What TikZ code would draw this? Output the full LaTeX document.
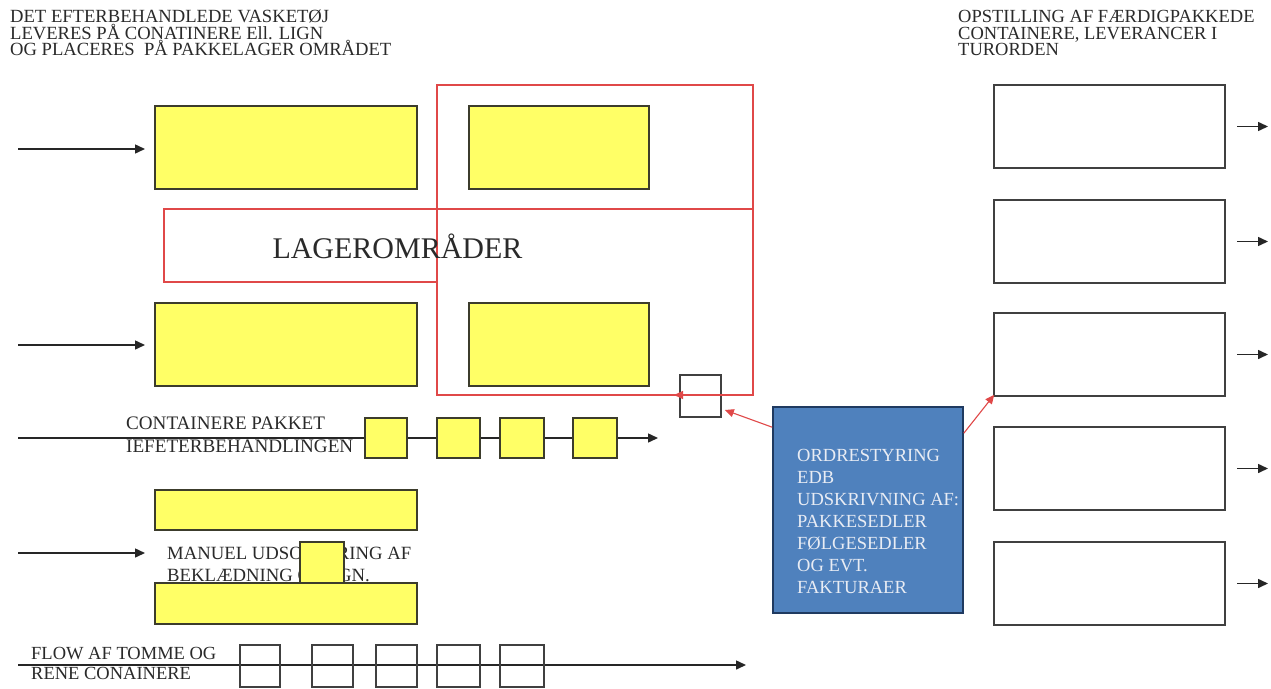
\documentclass[tikz,border=0pt]{standalone}
\usepackage{fontspec}
\setmainfont{Liberation Serif}
\usetikzlibrary{arrows.meta,calc}
\definecolor{ylw}{HTML}{FFFF66}
\definecolor{ybd}{HTML}{3C3C2C}
\definecolor{redl}{HTML}{E04848}
\definecolor{bluef}{HTML}{4F81BD}
\definecolor{blued}{HTML}{1F3A60}
\definecolor{bluet}{HTML}{E8ECF4}
\definecolor{txt}{HTML}{2A2A2A}
\begin{document}
\begin{tikzpicture}[x=1pt,y=-1pt,
 ybox/.style={draw=ybd,fill=ylw,line width=1.6pt,inner sep=0pt},
 wbox/.style={draw=black!75,line width=1.6pt,inner sep=0pt},
 redframe/.style={draw=redl,line width=1.1pt},
 conn/.style={draw=black!85,line width=1.5pt},
 arr/.style={conn,-{Triangle[length=10pt,width=9pt]}},
 redarr/.style={draw=redl,line width=1.1pt,-{Triangle[length=9pt,width=8pt]}},
 lbl/.style={text=txt,inner sep=0pt,align=left,anchor=west},
]
\useasboundingbox[fill=white] (0,0) rectangle (1271,688);

% top texts
\node[lbl,font={\fontsize{18.6pt}{16.5pt}\selectfont}] (ttl) at (10,33)
 {DET EFTERBEHANDLEDE VASKETØJ\\LEVERES PÅ CONATINERE Ell. LIGN\\OG PLACERES \ PÅ PAKKELAGER OMRÅDET};
\node[lbl,font={\fontsize{18.5pt}{16.5pt}\selectfont}] (ttr) at (958,33)
 {OPSTILLING AF FÆRDIGPAKKEDE\\CONTAINERE, LEVERANCER I\\TURORDEN};

% red storage frame
\draw[redframe] (437,85) rectangle (753,395);
\draw[redframe] (164,209) rectangle (437,282);
\draw[redframe] (437,209) -- (753,209);
\node[text=txt,inner sep=0pt,font={\fontsize{30pt}{31pt}\selectfont}] (lager) at (397.5,246) {LAGEROMRÅDER};

% yellow storage boxes
\node[ybox,minimum width=262pt,minimum height=83pt] (y1) at (286,147.5) {};
\node[ybox,minimum width=180pt,minimum height=83pt] (y2) at (559,147.5) {};
\node[ybox,minimum width=262pt,minimum height=83pt] (y3) at (286,344.5) {};
\node[ybox,minimum width=180pt,minimum height=83pt] (y4) at (559,344.5) {};

% incoming arrows
\coordinate (a1s) at (18,149); \coordinate (a1e) at (145,149);
\coordinate (a2s) at (18,345); \coordinate (a2e) at (145,345);
\coordinate (a3s) at (18,553); \coordinate (a3e) at (145,553);
\draw[arr] (a1s) -- (a1e);
\draw[arr] (a2s) -- (a2e);
\draw[arr] (a3s) -- (a3e);

% containers row
\node[ybox,minimum width=42pt,minimum height=40pt] (k1) at (386,438) {};
\node[ybox,minimum width=43pt,minimum height=40pt] (k2) at (458.5,438) {};
\node[ybox,minimum width=44pt,minimum height=40pt] (k3) at (522,438) {};
\node[ybox,minimum width=44pt,minimum height=40pt] (k4) at (595,438) {};
\coordinate (ks) at (18,438); \coordinate (ke) at (658,438);
\draw[conn] (ks) -- (k1.west);
\draw[conn] (k1.east) -- (k2.west);
\draw[conn] (k2.east) -- (k3.west);
\draw[conn] (k3.east) -- (k4.west);
\draw[arr] (k4.east) -- (ke);
\node[lbl,font={\fontsize{19.1pt}{23pt}\selectfont}] (tcp) at (126,435)
 {CONTAINERE PAKKET\\IEFETERBEHANDLINGEN};

% manual sorting
\node[ybox,minimum width=262pt,minimum height=40pt] (y5) at (286,510) {};
\node[ybox,minimum width=262pt,minimum height=41pt] (y6) at (286,603.5) {};
\node[lbl,font={\fontsize{18.7pt}{22pt}\selectfont}] (tman) at (167,564)
 {MANUEL UDSORTERING AF\\BEKLÆDNING O. LIGN.};
\node[ybox,minimum width=44pt,minimum height=41pt] (ys) at (322,562.5) {};

% empty containers flow
\coordinate (fs) at (18,665); \coordinate (fe) at (746,665);
\draw[arr] (fs) -- (fe);
\node[wbox,minimum width=40pt,minimum height=42pt] (e1) at (260,666) {};
\node[wbox,minimum width=41pt,minimum height=42pt] (e2) at (332.5,666) {};
\node[wbox,minimum width=41pt,minimum height=42pt] (e3) at (396.5,666) {};
\node[wbox,minimum width=43pt,minimum height=42pt] (e4) at (458.5,666) {};
\node[wbox,minimum width=44pt,minimum height=42pt] (e5) at (522,666) {};
\node[lbl,font={\fontsize{18.5pt}{20pt}\selectfont}] (tflow) at (31,663)
 {FLOW AF TOMME OG\\RENE CONAINERE};

% small white square and red arrows
\node[wbox,minimum width=41pt,minimum height=42pt] (sqw) at (700.5,396) {};
\coordinate (rb) at (753,395);
\draw[redarr] (rb) -- (674,395);

% order control box
\node[draw=blued,fill=bluef,line width=1.6pt,minimum width=190pt,minimum height=206pt,inner sep=0pt] (blue) at (868,510) {};
\node[lbl,text=bluet,font={\fontsize{18.5pt}{22pt}\selectfont}] (bluetxt) at (797,521)
 {ORDRESTYRING\\EDB\\UDSKRIVNING AF:\\PAKKESEDLER\\FØLGESEDLER\\OG EVT.\\FAKTURAER};
\draw[redarr] ($(blue.north west)+(0,21)$) -- ($(sqw.east)+(3,14)$);

% delivery boxes
\foreach \i/\c in {1/126.5,2/241.5,3/354.5,4/468.5,5/583.5}{
  \node[wbox,minimum width=231pt,minimum height=83pt] (r\i) at (1109.5,\c) {};
  \coordinate (ra\i) at (1237,\c);
  \coordinate (rb\i) at (1268,\c);
  \draw[arr] (ra\i) -- (rb\i);
}
\draw[redarr] ($(blue.north east)+(0,27)$) -- ($(r3.south west)+(1,-2)$);
\end{tikzpicture}
\end{document}
